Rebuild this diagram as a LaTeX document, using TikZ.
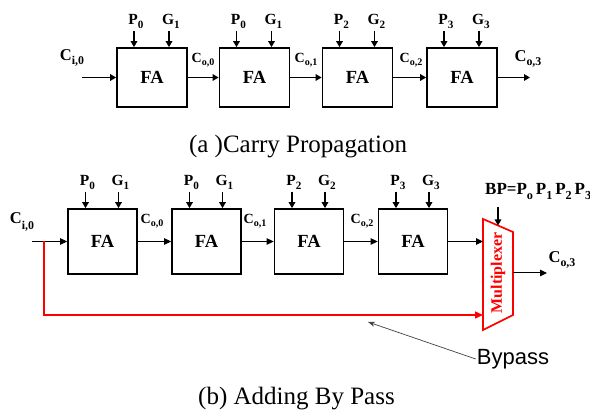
\documentclass[tikz,border=0pt]{standalone}
\usepackage{fontspec}
\setmainfont{Liberation Serif}
\setsansfont{Liberation Sans}
\usepackage{graphicx}
\usetikzlibrary{arrows.meta}
\newcommand\sbx[3][0.55ex]{#2\raisebox{-#1}{\scalebox{0.72}{#3}}}
\begin{document}
\begin{tikzpicture}[x=1pt,y=-1pt,
 fa/.style={draw,line width=1.7pt,minimum width=70pt,minimum height=59pt,inner sep=0pt,font=\fontsize{18.5}{18.5}\selectfont\bfseries},
 fb/.style={fa,minimum width=69pt,minimum height=65pt},
 thk/.style={line width=1.7pt,-{Triangle[length=6pt,width=6.5pt]}},
 thn/.style={line width=1pt,-{Triangle[length=7pt,width=6.5pt]}},
 redl/.style={red,line width=1.4pt,-{Triangle[length=8pt,width=7pt]}},
 lbl/.style={inner sep=1pt,font=\fontsize{15.5}{15.5}\selectfont\bfseries},
 clbl/.style={inner sep=0pt,font=\fontsize{14}{14}\selectfont\bfseries},
 blbl/.style={inner sep=0pt,font=\fontsize{16.5}{16.5}\selectfont\bfseries},
 captxt/.style={inner sep=0pt,anchor=base,font=\fontsize{25}{25}\selectfont}
]
\useasboundingbox (0,0) rectangle (590,414);
% ---------- (a) ----------
\node[fa] (a1) at (152,77.5) {FA};
\node[fa] (a2) at (254.5,77.5) {FA};
\node[fa] (a3) at (357.5,77.5) {FA};
\node[fa] (a4) at (462,77.5) {FA};
\coordinate (ain) at (82,77.5);
\coordinate (aout) at (530,77.5);
\draw[thk] (ain) -- (a1);
\draw[thk] (a1) -- (a2);
\draw[thk] (a2) -- (a3);
\draw[thk] (a3) -- (a4);
\draw[thk] (a4) -- (aout);
\foreach \b/\l/\r [count=\i] in {a1/{\sbx{P}{0}}/{\sbx{G}{1}},a2/{\sbx{P}{0}}/{\sbx{G}{1}},a3/{\sbx{P}{2}}/{\sbx{G}{2}},a4/{\sbx{P}{3}}/{\sbx{G}{3}}}{
  \coordinate (ap\i) at ([xshift=-18pt]\b.north |- 0,31);
  \coordinate (ag\i) at ([xshift=17pt]\b.north |- 0,31);
  \draw[thk] (ap\i) -- (ap\i |- \b.north);
  \draw[thk] (ag\i) -- (ag\i |- \b.north);
  \node[lbl,anchor=south] (apl\i) at ([xshift=2pt,yshift=1pt]ap\i) {\l};
  \node[lbl,anchor=south] (agl\i) at ([xshift=2pt,yshift=1pt]ag\i) {\r};
}
\node[blbl] (aci) at (72,58) {\sbx{C}{i,0}};
\node[clbl] (aco0) at (203,60) {\sbx{C}{o,0}};
\node[clbl] (aco1) at (306,60) {\sbx{C}{o,1}};
\node[clbl] (aco2) at (411,60) {\sbx{C}{o,2}};
\node[blbl] (aco3) at (528,59) {\sbx{C}{o,3}};
\node[captxt] (capa) at (298,153) {(a )Carry Propagation};
% ---------- (b) ----------
\node[fb] (b1) at (102.5,241.5) {FA};
\node[fb] (b2) at (206.5,241.5) {FA};
\node[fb] (b3) at (309,241.5) {FA};
\node[fb] (b4) at (413,241.5) {FA};
\foreach \b/\l/\r [count=\i] in {b1/{\sbx{P}{0}}/{\sbx{G}{1}},b2/{\sbx{P}{0}}/{\sbx{G}{1}},b3/{\sbx{P}{2}}/{\sbx{G}{2}},b4/{\sbx{P}{3}}/{\sbx{G}{3}}}{
  \coordinate (bp\i) at ([xshift=-17pt]\b.north |- 0,192);
  \coordinate (bg\i) at ([xshift=16pt]\b.north |- 0,192);
  \draw[thk] (bp\i) -- (bp\i |- \b.north);
  \draw[thk] (bg\i) -- (bg\i |- \b.north);
  \node[lbl,anchor=south] (bpl\i) at ([xshift=2pt,yshift=1pt]bp\i) {\l};
  \node[lbl,anchor=south] (bgl\i) at ([xshift=2pt,yshift=1pt]bg\i) {\r};
}
\coordinate (bin) at (32,241.5);
\coordinate (br) at (44,241.5);
\draw[thn] (bin) -- (b1);
\draw[thn] (b1) -- (b2);
\draw[thn] (b2) -- (b3);
\draw[thn] (b3) -- (b4);
% multiplexer
\coordinate (m1) at (483,219);
\coordinate (m2) at (513,232);
\coordinate (m3) at (513,315);
\coordinate (m4) at (483,330);
\draw[red,line width=1.7pt,line join=miter] (m1) -- (m2) -- (m3) -- (m4) -- cycle;
\node[rotate=90,red,inner sep=0pt,font=\fontsize{16}{16}\selectfont\bfseries] (mux) at (498,273) {Multiplexer};
\coordinate (min) at (483,241.5);
\draw[thn] (b4) -- (min);
\coordinate (mred) at (483,315);
\draw[redl] (br) |- (mred);
\coordinate (bpt) at (498,207);
\coordinate (bpb) at (498,225.5);
\draw[thk] (bpt) -- (bpb);
\node[blbl,anchor=base west,font=\fontsize{17}{17}\selectfont\bfseries] (bpl) at (485,195) {BP=\sbx{P}{o}\,\sbx{P}{1}\,\sbx{P}{2}\,\sbx{P}{3}};
\coordinate (mout) at (513,273);
\coordinate (bout) at (547,273);
\draw[thn] (mout) -- (bout);
\node[blbl] (bco3) at (562,260) {\sbx{C}{o,3}};
\node[blbl] (bci) at (22,222) {\sbx[0.8ex]{C}{i,0}};
\node[clbl] (bco0) at (152,221) {\sbx{C}{o,0}};
\node[clbl] (bco1) at (255,221) {\sbx{C}{o,1}};
\node[clbl] (bco2) at (362,221) {\sbx{C}{o,2}};
% bypass
\node[inner sep=1pt,font=\sffamily\fontsize{22}{22}\selectfont] (byp) at (513,359) {Bypass};
\coordinate (bypt) at (368,322);
\draw[black!75,line width=0.7pt,-{Stealth[length=7pt,width=5pt]}] (byp.west) -- (bypt);
\node[captxt] (capb) at (296.5,405) {(b) Adding By Pass};
\end{tikzpicture}
\end{document}
